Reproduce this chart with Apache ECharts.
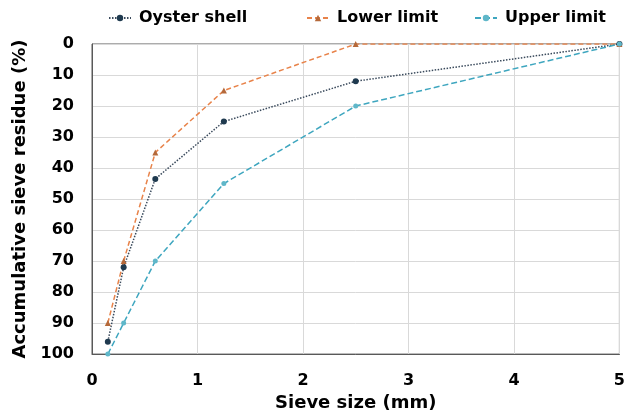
<!DOCTYPE html>
<html><head><meta charset="utf-8">
<script src="https://cdn.jsdelivr.net/npm/echarts@6/dist/echarts.min.js"></script>
<style>html,body{margin:0;padding:0;background:#fff}#c{width:628px;height:417px}</style>
</head><body><div id="c"></div>
<script>
const sieveSizes = [0.15, 0.3, 0.6, 1.25, 2.5, 5];
const oysterShell = [96, 72, 43.5, 25, 12, 0];
const lowerLimit = [90, 70, 35, 15, 0, 0];
const upperLimit = [100, 90, 70, 45, 20, 0];
const seriesNames = ['Oyster shell', 'Lower limit', 'Upper limit'];

const pair = arr => sieveSizes.map((x, i) => [x, arr[i]]);
const font = 'DejaVu Sans';
const legendLefts = [108, 306, 474];
const chart = echarts.init(document.getElementById('c'), null, {renderer: 'canvas'});
chart.setOption({
  animation: false,
  backgroundColor: '#fff',
  legend: seriesNames.map((n, i) => ({
    top: 10, left: legendLefts[i], padding: 0, itemWidth: 22, itemHeight: 8,
    textStyle: {fontFamily: font, fontWeight: 'bold', fontSize: 16, color: '#000', padding: [0, 0, 0, 3]},
    data: [n]
  })),
  grid: {left: 92, right: 4, top: 44, bottom: 58, show: true, borderColor: '#595959', borderWidth: 1},
  xAxis: {
    type: 'value', min: 0, max: 5, interval: 1,
    name: 'Sieve size (mm)', nameLocation: 'middle', nameGap: 38,
    nameTextStyle: {fontFamily: font, fontWeight: 'bold', fontSize: 18, color: '#000'},
    axisLine: {show: true, onZero: false, lineStyle: {color: '#595959'}},
    axisTick: {show: false},
    axisLabel: {fontFamily: font, fontWeight: 'bold', fontSize: 16, color: '#000', margin: 19},
    splitLine: {show: true, lineStyle: {color: '#d9d9d9'}}
  },
  yAxis: {
    type: 'value', min: 0, max: 100, interval: 10, inverse: true,
    name: 'Accumulative sieve residue (%)', nameLocation: 'middle', nameGap: 63,
    nameTextStyle: {fontFamily: font, fontWeight: 'bold', fontSize: 18, color: '#000'},
    axisLine: {show: true, onZero: false, lineStyle: {color: '#595959'}},
    axisTick: {show: false},
    axisLabel: {fontFamily: font, fontWeight: 'bold', fontSize: 16, color: '#000', margin: 18},
    splitLine: {show: true, lineStyle: {color: '#d9d9d9'}}
  },
  series: [
    {name: seriesNames[0], type: 'line', data: pair(oysterShell), symbol: 'circle', symbolSize: 6,
     itemStyle: {color: '#1f3a4f'}, lineStyle: {color: '#3a4a5c', width: 1.5, type: [1.5, 1.5]}},
    {name: seriesNames[1], type: 'line', data: pair(lowerLimit), symbol: 'triangle', symbolSize: 6,
     itemStyle: {color: '#b5693a'}, lineStyle: {color: '#e8834a', width: 1.5, type: [5, 3]}},
    {name: seriesNames[2], type: 'line', data: pair(upperLimit), symbol: 'circle', symbolSize: 5,
     itemStyle: {color: '#5fb7c9'}, lineStyle: {color: '#3ea6bf', width: 1.5, type: [6, 3]}}
  ]
});
</script></body></html>
